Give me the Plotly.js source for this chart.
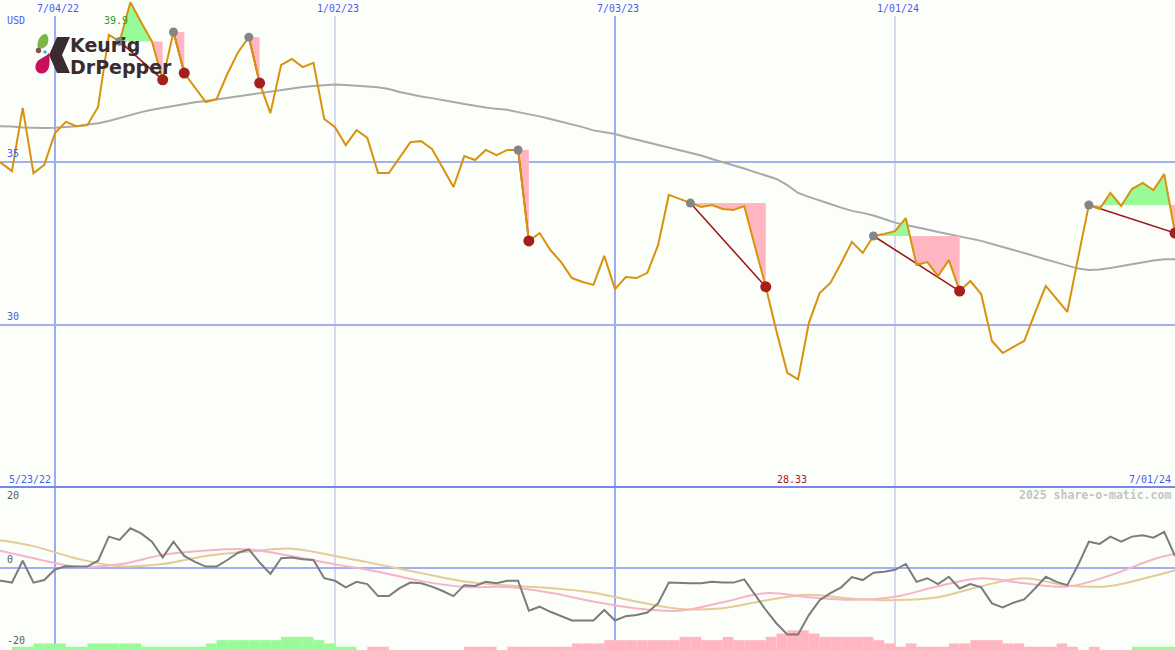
<!DOCTYPE html>
<html><head><meta charset="utf-8">
<script src="https://cdn.plot.ly/plotly-3.0.1.min.js"></script>
<style>html,body{margin:0;padding:0;background:#fcfefa;}#chart{width:1175px;height:650px;}</style>
</head><body><div id="chart"></div>
<script>
// ---------------- DATA (weekly, Keurig Dr Pepper, USD) ----------------
const firstWeek = '2022-05-23';
const price = [35.06,34.97,34.72,36.66,34.66,34.91,35.89,36.23,36.10,36.13,
  36.69,38.90,38.70,39.90,39.29,38.70,37.52,38.99,37.73,37.27,
  36.84,36.93,37.70,38.37,38.83,37.42,36.50,37.98,38.16,37.91,
  38.04,36.32,36.07,35.52,35.98,35.74,34.66,34.66,35.15,35.61,
  35.64,35.40,34.82,34.23,35.18,35.06,35.37,35.21,35.37,35.37,
  32.58,32.82,32.30,31.93,31.44,31.32,31.23,32.12,31.10,31.47,
  31.44,31.60,32.45,33.99,33.87,33.74,33.62,33.68,33.56,33.53,
  33.65,32.40,31.17,29.80,28.53,28.33,30.06,30.98,31.29,31.90,
  32.55,32.21,32.73,32.79,32.88,33.28,31.84,31.93,31.50,31.99,
  31.04,31.35,30.95,29.51,29.14,29.33,29.51,30.37,31.20,30.80,
  30.40,32.06,33.68,33.56,34.05,33.65,34.17,34.36,34.14,34.63,32.82];
const movingAvg = [36.10,36.10,36.09,36.06,36.04,36.04,36.05,36.07,36.10,36.15,
  36.19,36.26,36.35,36.46,36.53,36.60,36.66,36.72,36.76,36.83,
  36.87,36.92,36.96,37.02,37.06,37.12,37.16,37.22,37.27,37.30,
  37.33,37.36,37.38,37.36,37.35,37.32,37.29,37.24,37.15,37.07,
  37.01,36.96,36.89,36.84,36.78,36.72,36.67,36.63,36.60,36.53,
  36.47,36.40,36.32,36.24,36.17,36.07,35.97,35.92,35.86,35.77,
  35.69,35.60,35.52,35.44,35.37,35.29,35.20,35.09,35.00,34.91,
  34.80,34.69,34.59,34.48,34.29,34.05,33.93,33.83,33.71,33.60,
  33.50,33.44,33.36,33.25,33.14,33.07,33.01,32.93,32.85,32.79,
  32.71,32.65,32.58,32.48,32.39,32.30,32.21,32.10,32.01,31.92,
  31.83,31.73,31.69,31.70,31.75,31.81,31.87,31.93,31.98,32.02,32.02];
const momentum = [-3.6,-3.5,-4.0,2.0,-4.0,-3.3,-0.4,0.5,0.4,0.4,
  2.0,8.6,7.7,10.9,9.5,7.2,2.9,7.2,3.3,1.7,
  0.4,0.4,2.2,4.2,5.1,1.5,-1.6,2.7,2.9,2.4,
  2.2,-2.8,-3.5,-5.3,-3.8,-4.4,-7.7,-7.7,-5.5,-4.0,
  -4.2,-5.1,-6.3,-7.7,-4.7,-4.9,-3.8,-4.2,-3.5,-3.5,
  -11.7,-10.6,-12.0,-13.2,-14.4,-14.4,-14.4,-11.5,-14.4,-13.2,
  -12.9,-12.2,-9.7,-4.0,-4.2,-4.2,-4.2,-3.8,-4.0,-4.0,
  -3.1,-7.4,-11.5,-15.2,-18.2,-18.2,-12.9,-8.8,-6.9,-5.3,
  -2.5,-3.3,-1.3,-1.0,-0.5,1.1,-3.8,-2.8,-4.4,-2.4,
  -5.6,-4.4,-5.3,-9.7,-10.8,-9.5,-8.6,-5.6,-2.4,-3.8,
  -4.7,0.8,7.2,6.6,8.6,7.2,8.6,9.0,8.3,9.9,3.3];
const histLevel = [0,0,1,1,2,2,2,1,1,2,
  2,2,2,2,1,1,1,1,1,1,
  2,3,3,3,3,3,3,4,4,4,
  3,2,1,1,0,-1,-1,0,0,0,
  0,0,0,0,-1,-1,-1,0,-1,-1,
  -1,-1,-1,-1,-2,-2,-2,-3,-3,-3,
  -3,-3,-3,-3,-4,-4,-3,-3,-4,-3,
  -3,-3,-4,-5,-6,-6,-5,-4,-4,-4,
  -4,-4,-3,-2,-1,-2,-1,-1,-1,-2,
  -2,-3,-3,-3,-2,-2,-1,-1,-1,-2,
  -1,0,-1,0,0,0,1,1,1,1,0];
const smoothWeek = [0,4,8,12,16,20,24,28,32,36,40,44,48,52,56,60,64,68,72,76,80,84,88,92,96,100,104,108,110];
const pinkAvg = [5.3,2.7,0.3,1.0,3.6,4.8,5.1,3.2,1.0,-1.0,-3.6,-5.2,-5.2,-6.8,-9.2,-11.1,-11.7,-9.4,-6.9,-8.0,-8.7,-7.9,-5.0,-2.8,-4.2,-5.1,-2.0,2.4,3.9];
const tanAvg  = [8.0,6.0,2.6,0.5,1.1,3.3,4.5,5.3,3.3,1.0,-1.4,-3.7,-4.8,-5.5,-6.8,-9.2,-11.2,-11.0,-8.9,-7.3,-8.4,-8.8,-8.0,-5.0,-2.8,-4.8,-4.9,-2.2,-0.6];
const peakWeek   = [12,17,24,49,65,82,102];
const troughWeek = [16,18,25,50,72,90,110];
const xTickDates = ['2022-07-04','2023-01-02','2023-07-03','2024-01-01'];
const xTickText  = ['7/04/22','1/02/23','7/03/23','1/01/24'];
const priceTicks = [30,35];
const oscTicks = [20,0,-20];
const currency = 'USD';
const company = ['Keurig','DrPepper'];
const watermark = '2025 share-o-matic.com';

// ---------------- helpers ----------------
const W = 1175, H = 650, DAY = 864e5;
const t0 = Date.parse(firstWeek + 'T00:00:00Z');
const iso = ms => new Date(ms).toISOString().replace('T',' ').slice(0,19);
const weeks = price.map((_, k) => iso(t0 + k*7*DAY));
const fmtDate = s => { const d = new Date(s.slice(0,10) + 'T00:00:00Z');
  return (d.getUTCMonth()+1) + '/' + String(d.getUTCDate()).padStart(2,'0') + '/' + String(d.getUTCFullYear()).slice(2); };
const px = x => x / W, py = y => 1 - y / H;
const splitY = py(487);

const ORANGE = '#d8920c', BLUE = '#4d5cf0', GRID = '#a3aff0';
const traces = [];

// histogram bars (lower panel)
const barX = [], barY = [], barC = [];
histLevel.forEach((v, k) => { if (v !== 0) { barX.push(weeks[k]); barY.push(Math.abs(v) * 0.9); barC.push(v > 0 ? '#98fb98' : '#ffb6c1'); } });
const oscRange = [-22.47, 22.2];
traces.push({type:'bar', x:barX, y:barY, base:oscRange[0], offset:0, width:7*DAY, xaxis:'x', yaxis:'y2',
  marker:{color:barC, line:{width:0}}, hoverinfo:'skip'});

const smoothX = smoothWeek.map(k => weeks[k]);
traces.push({type:'scatter', mode:'lines', x:smoothX, y:tanAvg, yaxis:'y2', line:{color:'#e4cb98', width:2, shape:'spline'}});
traces.push({type:'scatter', mode:'lines', x:smoothX, y:pinkAvg, yaxis:'y2', line:{color:'#f7b3c8', width:2, shape:'spline'}});
traces.push({type:'scatter', mode:'lines', x:weeks, y:momentum, yaxis:'y2', line:{color:'#7c7c7c', width:2}});

// moving average
traces.push({type:'scatter', mode:'lines', x:weeks, y:movingAvg, line:{color:'#a9a9a9', width:2}});

// fills between price and the level of each peak, until the following low
peakWeek.forEach((i, s) => {
  const j = troughWeek[s], L = price[i];
  const pts = [];
  for (let k = i; k <= j; k++) {
    pts.push([t0 + k*7*DAY, price[k]]);
    if (k < j) {
      const a = price[k] - L, b = price[k+1] - L;
      if (a * b < 0) { const f = a / (a - b); pts.push([t0 + (k+f)*7*DAY, L]); }
    }
  }
  const back = pts.slice().reverse();
  [['#98fb98', Math.max], ['#ffb6c1', Math.min]].forEach(([col, fn]) => {
    traces.push({type:'scatter', mode:'lines', fill:'toself', fillcolor:col, line:{width:0, color:col},
      x: pts.map(p => iso(p[0])).concat(back.map(p => iso(p[0]))),
      y: pts.map(p => fn(p[1], L)).concat(back.map(() => L)), hoverinfo:'skip'});
  });
});

// connectors peak -> low
peakWeek.forEach((i, s) => {
  const j = troughWeek[s];
  traces.push({type:'scatter', mode:'lines', x:[weeks[i], weeks[j]], y:[price[i], price[j]], line:{color:'#9e1a1a', width:1.6}});
});

// price
traces.push({type:'scatter', mode:'lines', x:weeks, y:price, line:{color:ORANGE, width:2}});

// markers
traces.push({type:'scatter', mode:'markers', x:peakWeek.map(k => weeks[k]), y:peakWeek.map(k => price[k]),
  marker:{color:'#858585', size:9}});
traces.push({type:'scatter', mode:'markers', x:troughWeek.map(k => weeks[k]), y:troughWeek.map(k => price[k]),
  marker:{color:'#a51f1f', size:11}});

// ---------------- annotations ----------------
const mono = (size, color, bold) => ({family:'DejaVu Sans Mono', size:size, color:color, weight: bold ? 'bold' : 'normal'});
const ann = [];
xTickDates.forEach((d, i) => ann.push({xref:'x', yref:'paper', x:d, y:py(9), xshift:3, text:xTickText[i],
  showarrow:false, xanchor:'center', yanchor:'middle', font:mono(10, BLUE)}));
ann.push({xref:'paper', yref:'paper', x:px(5), y:py(21), text:currency, showarrow:false, xanchor:'left', yanchor:'middle', font:mono(10, BLUE)});
const maxK = price.indexOf(Math.max(...price)), minK = price.indexOf(Math.min(...price));
ann.push({xref:'x', yref:'paper', x:weeks[maxK], y:py(21), text:price[maxK].toFixed(1), showarrow:false, xanchor:'right', yanchor:'middle', font:mono(10, '#2f9a2f')});
priceTicks.forEach(v => ann.push({xref:'paper', yref:'y', x:px(5), y:v, yshift:1, text:String(v), showarrow:false, xanchor:'left', yanchor:'bottom', font:mono(10, BLUE)}));
oscTicks.forEach(v => ann.push({xref:'paper', yref:'y2', x:px(5), y:v, yshift: v === 0 ? 1 : 0, text:String(v), showarrow:false, xanchor:'left',
  yanchor: v === 0 ? 'bottom' : 'middle', font:mono(10, '#5a5a5a')}));
ann.push({xref:'paper', yref:'paper', x:px(7), y:py(479), text:fmtDate(weeks[0]), showarrow:false, xanchor:'left', yanchor:'middle', font:mono(10, BLUE)});
ann.push({xref:'paper', yref:'paper', x:px(1173), y:py(479), text:fmtDate(weeks[weeks.length-1]), showarrow:false, xanchor:'right', yanchor:'middle', font:mono(10, BLUE)});
ann.push({xref:'x', yref:'paper', x:weeks[minK], xshift:-6, y:py(479), text:price[minK].toFixed(2), showarrow:false, xanchor:'center', yanchor:'middle', font:mono(10, '#a31c1c')});
ann.push({xref:'paper', yref:'paper', x:px(1173), y:py(495), text:watermark, showarrow:false, xanchor:'right', yanchor:'middle', font:mono(11.5, '#c4c4c4', true)});
// logo text (two stacked lines, spaced so their boxes do not overlap)
const logoFont = {family:'DejaVu Sans', size:19, color:'#3a2b30', weight:'bold'};
ann.push({xref:'paper', yref:'paper', x:px(69), y:py(45), showarrow:false, xanchor:'left', yanchor:'middle', borderpad:0,
  text:company[0], font:logoFont});
ann.push({xref:'paper', yref:'paper', x:px(69), y:py(67.5), showarrow:false, xanchor:'left', yanchor:'middle', borderpad:0,
  text:company[1], font:logoFont});

// ---------------- shapes ----------------
const P = (x, y) => px(x).toFixed(5) + ',' + py(y).toFixed(5);
const shapes = [];
xTickDates.forEach((d, i) => shapes.push({type:'line', xref:'x', yref:'paper', x0:d, x1:d, y0:0, y1:py(16), layer:'below',
  line:{color: i % 2 === 0 ? '#9eabf2' : '#b1b5e2', width: i % 2 === 0 ? 2 : 1}}));
shapes.push({type:'line', xref:'paper', yref:'paper', x0:0, x1:1, y0:splitY, y1:splitY, layer:'below', line:{color:'#7586ee', width:2}});
// logo marks
shapes.push({type:'path', xref:'paper', yref:'paper', layer:'below', line:{width:0}, fillcolor:'#3a2b30',
  path:'M' + P(57,37) + ' L' + P(70,37) + ' L' + P(62,55) + ' L' + P(70,73) + ' L' + P(57,73) + ' L' + P(49,55) + ' Z'});
shapes.push({type:'path', xref:'paper', yref:'paper', layer:'below', line:{width:0}, fillcolor:'#7db646',
  path:'M' + P(38,49) + ' C' + P(36,42) + ' ' + P(40,34) + ' ' + P(46,34) + ' C' + P(49,36) + ' ' + P(49,42) + ' ' + P(47,45) + ' C' + P(45,48) + ' ' + P(41,49) + ' ' + P(38,49) + ' Z'});
shapes.push({type:'path', xref:'paper', yref:'paper', layer:'below', line:{width:0}, fillcolor:'#c8105a',
  path:'M' + P(49,53) + ' C' + P(50,60) + ' ' + P(51,73) + ' ' + P(42,73.5) + ' C' + P(35,73.5) + ' ' + P(34,66) + ' ' + P(37,62) + ' C' + P(40,58) + ' ' + P(46,57) + ' ' + P(49,53) + ' Z'});
shapes.push({type:'circle', xref:'paper', yref:'paper', layer:'below', line:{width:0}, fillcolor:'#86543f',
  x0:px(35.8), x1:px(41.2), y0:py(53.2), y1:py(47.8)});
shapes.push({type:'circle', xref:'paper', yref:'paper', layer:'below', line:{width:0}, fillcolor:'#38b3e6',
  x0:px(43.2), x1:px(46.8), y0:py(53.8), y1:py(50.2)});

const xStart = iso(t0 + 6.24*DAY), xEnd = iso(t0 + (price.length-1)*7*DAY);
const layout = {
  width:W, height:H, margin:{l:0, r:0, t:0, b:0, pad:0},
  paper_bgcolor:'#fcfefa', plot_bgcolor:'#fcfefa', showlegend:false, hovermode:false,
  xaxis:{type:'date', range:[xStart, xEnd], showgrid:false, zeroline:false, showticklabels:false, ticks:'', showline:false, anchor:'y2'},
  yaxis:{domain:[splitY, 1], range:[25.03, 39.97], tickvals:priceTicks, showgrid:true, gridcolor:GRID, gridwidth:2,
    zeroline:false, showticklabels:false, ticks:'', showline:false},
  yaxis2:{domain:[0, splitY], range:oscRange, tickvals:oscTicks, showgrid:false, zeroline:true, zerolinecolor:GRID, zerolinewidth:2,
    showticklabels:false, ticks:'', showline:false},
  annotations:ann, shapes:shapes
};
Plotly.newPlot('chart', traces, layout, {staticPlot:true, displayModeBar:false});
</script></body></html>
